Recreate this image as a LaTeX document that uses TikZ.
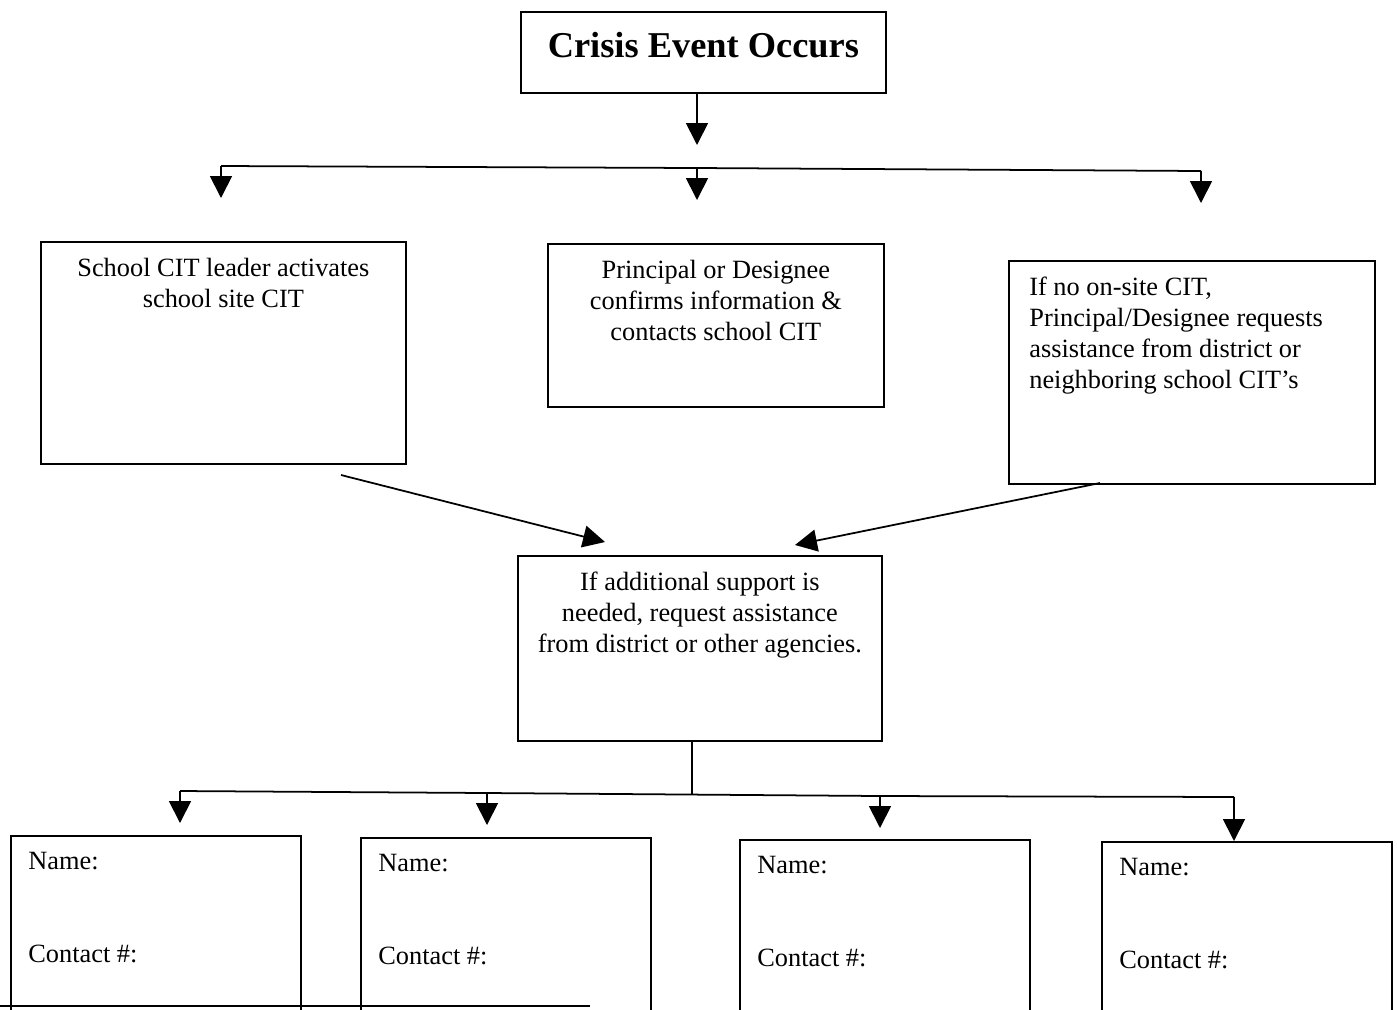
\documentclass[tikz,border=0pt]{standalone}
\usepackage{fontspec}
\setmainfont{Liberation Serif}
\usetikzlibrary{arrows.meta, positioning}

\tikzset{
  box/.style n args={2}{draw, line width=1pt, anchor=north west, inner sep=0pt,
    minimum width=#1*0.02cm, minimum height=#2*0.02cm},
  txt/.style={anchor=north, inner sep=0pt, align=center, yshift=-0.34cm},
  lefttxt/.style={anchor=north west, inner sep=0pt, align=left, xshift=0.36cm, yshift=-0.34cm},
  flow/.style={-{Triangle[length=0.44cm, width=0.44cm]}, line width=1pt},
  wire/.style={line width=1pt}
}

\begin{document}
\begin{tikzpicture}[x=0.02cm, y=-0.02cm,
  every node/.style={font=\fontsize{15pt}{17.6pt}\selectfont}]

\useasboundingbox (0,0) rectangle (1397,1009);
\clip (0,0) rectangle (1397,1009);

% top of the chart
\node[box={365}{81}, label={[txt, yshift=-0.08cm, font=\bfseries\fontsize{20.7pt}{24pt}\selectfont]north:Crisis Event Occurs}] (crisis) at (520,11) {};

\node[box={365}{222}, label={[txt]north:School CIT leader activates\\school site CIT}] (leader) at (40,241) {};
\node[box={336}{163}, label={[txt]north:Principal or Designee\\confirms information \&\\contacts school CIT}] (principal) at (547,243) {};
\node[box={366}{223}, label={[lefttxt, xshift=0.06cm]north west:If no on-site CIT,\\Principal/Designee requests\\assistance from district or\\neighboring school CIT’s}] (offsite) at (1008,260) {};

\node[box={364}{185}, label={[txt]north:If additional support is\\needed, request assistance\\from district or other agencies.}] (support) at (517,555) {};

% contact boxes, cut off by the page
\foreach \x/\y [count=\i] in {10/835, 360/837, 739/839, 1101/841}
  \node[box={290}{230},
        label={[lefttxt]north west:Name:},
        label={[lefttxt, yshift=-1.86cm]north west:Contact \#:}] (contact\i) at (\x,\y) {};

% connectors
\coordinate (hub) at (697,145);
\draw[flow] (crisis.south -| hub) -- (hub);

\foreach \x/\y/\e [count=\i] in {221/166/198, 697/168/200, 1201/171/203} {
  \coordinate (top\i) at (\x,\y);
  \coordinate (tip\i) at (\x,\e);
  \draw[flow] (top\i) -- (tip\i);
}
\draw[wire] (top1) -- (top2) -- (top3);

\coordinate (fromL) at (341,475);
\coordinate (toL) at (605,542);
\coordinate (fromR) at (1100,483);
\coordinate (toR) at (795,545);
\draw[flow] (fromL) -- (toL);
\draw[flow] (fromR) -- (toR);

\foreach \x/\y/\e [count=\i] in {180/791/823, 487/793/825, 880/796/828, 1234/797/841} {
  \coordinate (drop\i) at (\x,\y);
  \coordinate (end\i) at (\x,\e);
  \draw[flow] (drop\i) -- (end\i);
}
\draw[wire] (drop1) -- (drop2) -- (drop3) -- (drop4);
\coordinate (hub2) at (692,795);
\draw[wire] (support.south -| hub2) -- (hub2);

% scan edge along the bottom
\coordinate (edgeL) at (0,1006);
\coordinate (edgeR) at (590,1006);
\draw[wire] (edgeL) -- (edgeR);

\end{tikzpicture}
\end{document}
